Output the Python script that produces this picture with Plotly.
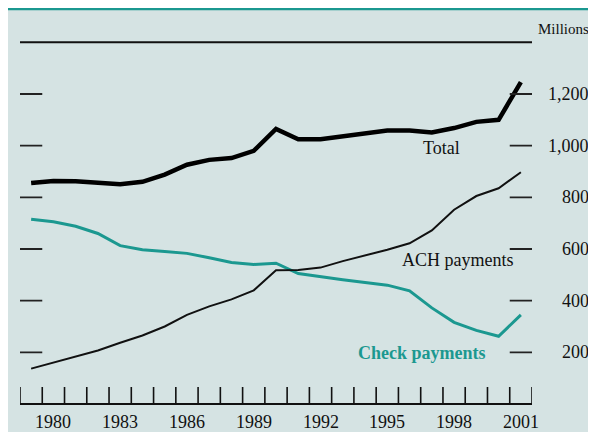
import plotly.graph_objects as go

years = list(range(1979, 2002))
total = [855, 863, 862, 858, 851, 860, 888, 926, 945, 952, 980, 1065, 1025, 1025, 1035, 1045, 1059, 1059, 1051, 1068, 1092, 1100, 1246]
ach = [137, 160, 183, 207, 237, 265, 300, 345, 378, 405, 440, 518, 519, 528, 553, 575, 597, 622, 672, 752, 805, 835, 897]
check = [715, 705, 688, 660, 613, 597, 590, 583, 566, 548, 540, 545, 505, 492, 481, 470, 460, 438, 372, 316, 285, 262, 345]
y_ticks = [200, 400, 600, 800, 1000, 1200]
y_tick_labels = ["200", "400", "600", "800", "1,000", "1,200"]
x_labels = [1980, 1983, 1986, 1989, 1992, 1995, 1998, 2001]

TEAL = "#1b9890"
BG = "#d5e3e3"
SERIF = "Liberation Serif, Times New Roman, serif"
W, H = 596, 432
OFF = 8  # page body margin: page coords -> figure coords


def fx(px):
    return (px - OFF) / W


def fy(py):
    return (H - (py - OFF)) / H


fig = go.Figure()
fig.add_trace(go.Scatter(x=years, y=check, mode="lines", line=dict(color=TEAL, width=3), hoverinfo="skip"))
fig.add_trace(go.Scatter(x=years, y=ach, mode="lines", line=dict(color="#111111", width=2), hoverinfo="skip"))
fig.add_trace(go.Scatter(x=years, y=total, mode="lines", line=dict(color="#000000", width=4.5), hoverinfo="skip"))

x0, x1 = years[0] - 0.5, years[-1] + 0.5
ymin, ymax = -10, 1410
px_per_unit = (404 - 42.3) / 1400
dom_bottom = 404 + (0 - ymin) * px_per_unit
dom_top = 42.3 - (ymax - 1400) * px_per_unit

shapes = []
# teal top band
shapes.append(dict(type="line", xref="paper", yref="paper", x0=0, x1=1, y0=fy(8.8), y1=fy(8.8),
                   line=dict(color=TEAL, width=3)))
# top line and bottom axis
for yv in (1400, 0):
    shapes.append(dict(type="line", xref="x", yref="y", x0=x0, x1=x1, y0=yv, y1=yv,
                       line=dict(color="#111111", width=2)))
# vertical year ticks
tick_h = 17 / px_per_unit
for k in range(len(years) + 1):
    xv = x0 + k
    shapes.append(dict(type="line", xref="x", yref="y", x0=xv, x1=xv, y0=0, y1=tick_h,
                       line=dict(color="#111111", width=1.6)))
# y ticks left and right
for yv in y_ticks:
    shapes.append(dict(type="line", xref="x", yref="y", x0=x0, x1=x0 + 1.0, y0=yv, y1=yv,
                       line=dict(color="#222222", width=1.8)))
    shapes.append(dict(type="line", xref="x", yref="y", x0=x1 - 1.0, x1=x1, y0=yv, y1=yv,
                       line=dict(color="#222222", width=1.8)))

annotations = []
for yv, lab in zip(y_ticks, y_tick_labels):
    annotations.append(dict(text=lab, xref="paper", yref="y", x=fx(591), y=yv, xanchor="right", yanchor="middle",
                            showarrow=False, font=dict(family=SERIF, size=18, color="#111111")))
annotations.append(dict(text="Millions", xref="paper", yref="paper", x=fx(591), y=fy(29),
                        xanchor="right", yanchor="middle", showarrow=False,
                        font=dict(family=SERIF, size=15, color="#111111")))
for xv in x_labels:
    annotations.append(dict(text=str(xv), xref="x", yref="paper", x=xv, y=fy(422),
                            xanchor="center", yanchor="middle", showarrow=False,
                            font=dict(family=SERIF, size=18, color="#111111")))
annotations.append(dict(text="Total", xref="paper", yref="paper", x=fx(441), y=fy(148),
                        xanchor="center", yanchor="middle", showarrow=False,
                        font=dict(family=SERIF, size=18, color="#111111")))
annotations.append(dict(text="ACH payments", xref="paper", yref="paper", x=fx(458), y=fy(260),
                        xanchor="center", yanchor="middle", showarrow=False,
                        font=dict(family=SERIF, size=18, color="#111111")))
annotations.append(dict(text="<b>Check payments</b>", xref="paper", yref="paper", x=fx(422), y=fy(353),
                        xanchor="center", yanchor="middle", showarrow=False,
                        font=dict(family=SERIF, size=18, color=TEAL)))

fig.update_layout(
    width=W, height=H,
    margin=dict(l=0, r=0, t=0, b=0),
    paper_bgcolor=BG, plot_bgcolor="rgba(0,0,0,0)",
    showlegend=False,
    xaxis=dict(domain=[fx(20), fx(532)], range=[x0, x1], visible=False, fixedrange=True),
    yaxis=dict(domain=[fy(dom_bottom), fy(dom_top)], range=[ymin, ymax], visible=False, fixedrange=True),
    shapes=shapes,
    annotations=annotations,
)

fig.write_html("out.html")
